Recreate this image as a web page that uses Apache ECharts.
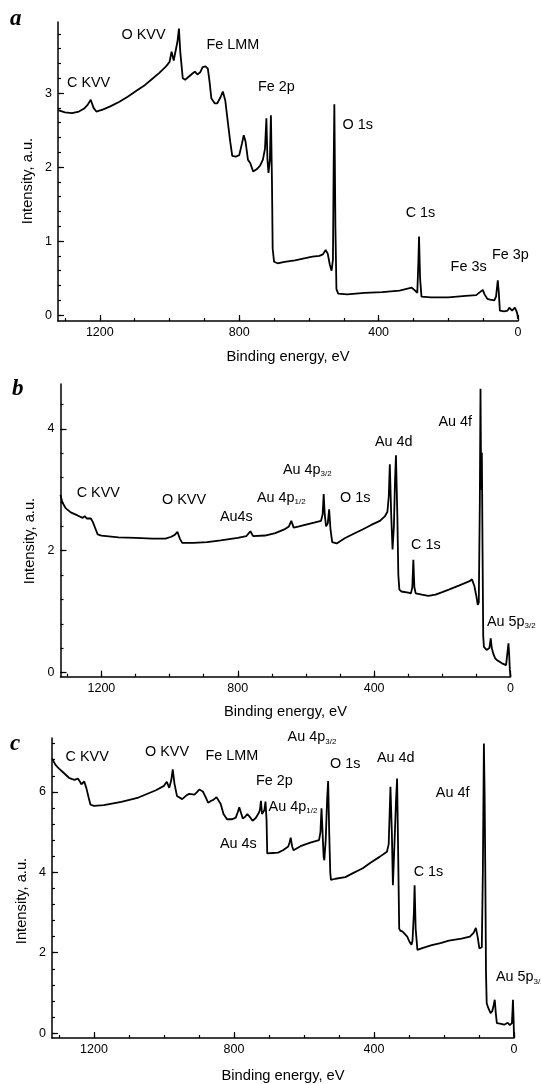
<!DOCTYPE html>
<html>
<head>
<meta charset="utf-8">
<script src="https://cdn.jsdelivr.net/npm/echarts@6/dist/echarts.min.js"></script>
<style>
html,body{margin:0;padding:0;background:#fff;}
#chart{width:541px;height:1084px;}
</style>
</head>
<body>
<div id="chart"></div>
<script>
// ---------- DATA (binding energy eV, intensity a.u.) ----------
const spectrumA = [
[1320,2.77],[1300,2.74],[1280,2.73],[1260,2.75],[1245,2.79],[1235,2.84],[1226,2.91],[1218,2.80],[1210,2.75],
[1190,2.78],[1170,2.82],[1145,2.88],[1120,2.95],[1095,3.03],[1070,3.11],[1050,3.19],[1030,3.27],[1010,3.36],
[1000,3.42],[994,3.56],[988,3.44],[983,3.42],[977,3.70],[973,3.87],[969,3.55],[962,3.20],[955,3.18],[945,3.22],
[935,3.26],[927,3.29],[920,3.25],[912,3.28],[905,3.35],[897,3.36],[890,3.33],[885,3.15],[880,2.93],[870,2.86],
[863,2.86],[853,2.95],[847,3.02],[840,2.90],[833,2.62],[826,2.35],[820,2.15],[810,2.14],[800,2.16],[792,2.32],
[787,2.43],[782,2.35],[775,2.10],[768,2.05],[760,1.94],[750,1.97],[740,2.02],[732,2.10],[726,2.25],[722,2.66],
[719,2.10],[716,1.92],[712,2.10],[709,2.70],[706,1.80],[704,0.90],[700,0.72],[690,0.70],[670,0.72],[640,0.74],
[610,0.77],[590,0.79],[570,0.80],[560,0.82],[552,0.88],[546,0.83],[540,0.68],[535,0.60],[531,0.75],[529,2.00],
[527,2.85],[524,1.20],[521,0.35],[516,0.29],[490,0.28],[440,0.30],[390,0.31],[340,0.33],[305,0.37],[295,0.33],
[289,0.30],[286,0.70],[284,1.06],[281,0.50],[277,0.25],[250,0.24],[200,0.24],[150,0.26],[120,0.27],[101,0.34],
[96,0.28],[88,0.22],[80,0.21],[68,0.20],[63,0.25],[58,0.47],[55,0.30],[52,0.06],[40,0.05],[30,0.06],[25,0.10],
[21,0.11],[17,0.06],[13,0.07],[9,0.10],[5,0.06],[2,0.02],[0,-0.05]
];
const spectrumB = [
[1320,2.92],[1315,2.80],[1305,2.70],[1290,2.63],[1270,2.58],[1255,2.54],[1249,2.57],[1243,2.53],[1238,2.50],
[1231,2.53],[1225,2.47],[1218,2.37],[1211,2.27],[1200,2.25],[1150,2.22],[1100,2.21],[1050,2.20],[1012,2.20],
[995,2.23],[985,2.26],[977,2.31],[970,2.20],[963,2.13],[930,2.13],[890,2.14],[850,2.17],[800,2.21],[775,2.24],
[763,2.32],[755,2.24],[720,2.25],[690,2.29],[660,2.36],[650,2.40],[643,2.49],[636,2.38],[620,2.40],[600,2.43],
[576,2.46],[556,2.49],[551,2.60],[548,2.93],[545,2.60],[541,2.40],[536,2.45],[532,2.68],[528,2.35],[523,2.14],
[510,2.12],[485,2.21],[460,2.28],[434,2.35],[410,2.42],[383,2.49],[368,2.57],[361,2.64],[357,2.90],[354,3.42],
[350,2.60],[346,2.02],[342,2.40],[339,3.10],[336,3.57],[332,2.60],[329,1.60],[326,1.36],[320,1.33],[300,1.31],
[292,1.30],[288,1.40],[285,1.85],[282,1.40],[278,1.30],[260,1.28],[241,1.26],[220,1.28],[200,1.32],[181,1.36],
[150,1.43],[120,1.50],[113,1.53],[106,1.42],[100,1.25],[96,1.11],[93,1.15],[90,2.80],[88,4.66],[86,3.00],
[84,3.61],[82,2.00],[80,0.60],[78,0.42],[70,0.37],[62,0.40],[58,0.56],[55,0.40],[50,0.30],[45,0.23],[39,0.20],
[25,0.15],[13,0.12],[8,0.13],[6,0.48],[4,0.30],[2,0.05],[0,-0.07]
];
const spectrumC = [
[1320,6.83],[1310,6.67],[1300,6.58],[1290,6.50],[1270,6.34],[1256,6.30],[1246,6.33],[1240,6.25],[1236,6.19],
[1228,6.26],[1222,6.10],[1215,5.85],[1210,5.68],[1200,5.65],[1172,5.67],[1122,5.75],[1073,5.86],[1023,6.04],
[1000,6.15],[992,6.25],[985,6.10],[979,6.30],[975,6.56],[970,6.20],[963,5.90],[948,5.82],[935,5.92],[928,5.95],
[913,5.93],[905,6.00],[899,6.06],[889,6.01],[880,5.85],[874,5.73],[865,5.78],[859,5.80],[850,5.87],[845,5.88],
[838,5.70],[830,5.45],[820,5.32],[805,5.32],[795,5.36],[789,5.50],[785,5.62],[779,5.45],[775,5.34],[768,5.38],
[762,5.45],[755,5.38],[747,5.28],[738,5.35],[730,5.46],[726,5.55],[723,5.78],[720,5.45],[717,5.42],[713,5.55],
[710,5.76],[707,5.30],[705,4.47],[690,4.48],[674,4.49],[660,4.55],[645,4.64],[641,4.75],[638,4.86],[634,4.65],
[630,4.55],[610,4.65],[582,4.74],[557,4.80],[553,5.00],[550,5.59],[547,5.00],[544,4.40],[542,4.30],[538,4.80],
[534,5.80],[531,6.27],[528,5.00],[525,4.00],[523,3.81],[510,3.84],[482,3.88],[460,3.98],[432,4.10],[410,4.24],
[383,4.39],[363,4.51],[358,4.70],[353,6.13],[349,5.00],[346,3.68],[342,4.60],[337,5.80],[334,6.33],[331,4.50],
[328,2.60],[325,2.55],[319,2.53],[305,2.40],[299,2.28],[293,2.20],[290,2.30],[286,3.00],[284,3.68],[281,2.60],
[276,2.07],[260,2.12],[235,2.19],[210,2.24],[186,2.30],[150,2.35],[126,2.40],[115,2.50],[109,2.62],[104,2.40],
[99,2.11],[95,2.10],[92,2.14],[89,4.00],[86,7.20],[84,6.00],[82,4.00],[80,1.50],[78,0.75],[75,0.66],[70,0.62],
[67,0.50],[62,0.55],[58,0.70],[55,0.83],[52,0.50],[49,0.25],[40,0.24],[28,0.21],[18,0.26],[12,0.20],[10,0.17],
[6,0.25],[4,0.60],[3,0.83],[1,0.30],[0,-0.12]
];

// ---------- TICK VALUES ----------
const xMajorTicks = [0, 400, 800, 1200];
const xMinorTicks = [0,100,200,300,400,500,600,700,800,900,1000,1100,1200,1300];
const yMajorA = [0, 1, 2, 3];
const yMinorA = [0,0.2,0.4,0.6,0.8,1,1.2,1.4,1.6,1.8,2,2.2,2.4,2.6,2.8,3,3.2,3.4,3.6,3.8];
const yMajorB = [0, 2, 4];
const yMinorB = [0,0.4,0.8,1.2,1.6,2,2.4,2.8,3.2,3.6,4,4.4];
const yMajorC = [0, 2, 4, 6];
const yMinorC = [0,0.4,0.8,1.2,1.6,2,2.4,2.8,3.2,3.6,4,4.4,4.8,5.2,5.6,6,6.4,6.8,7.2];

const xAxisTitle = 'Binding energy, eV';
const yAxisTitle = 'Intensity, a.u.';

// ---------- LAYOUT ----------
const FONT = '"Liberation Sans", Arial, sans-serif';
const panels = [
  {letter:'a', data:spectrumA, grid:{left:58, top:22, width:460, height:299}, yMin:-0.08, yMax:3.96,
   yMajor:yMajorA, yMinor:yMinorA, yName:[28,181], letterPos:[10,19], nameGap:28},
  {letter:'b', data:spectrumB, grid:{left:60.5, top:384, width:450, height:292.7}, yMin:-0.07, yMax:4.74,
   yMajor:yMajorB, yMinor:yMinorB, yName:[30,541], letterPos:[12,389], nameGap:28},
  {letter:'c', data:spectrumC, grid:{left:52, top:738, width:462, height:300.3}, yMin:-0.12, yMax:7.34,
   yMajor:yMajorC, yMinor:yMinorC, yName:[21.5,901], letterPos:[10,744], nameGap:30}
];

// annotation layout: [text, left x, center y]
const notes = [
  ['C KVV',67,83],['O KVV',121.5,35],['Fe LMM',206.5,45],['Fe 2p',258,87],['O 1s',342.5,125],
  ['C 1s',405.7,212.7],['Fe 3s',450.6,266.7],['Fe 3p',492,255],
  ['C KVV',76.7,492.7],['O KVV',162,500],['Au4s',220,516.7],['Au 4p|1/2',257,498],['Au 4p|3/2',283,470],
  ['O 1s',340,498],['Au 4d',375,441.7],['Au 4f',438.5,421.7],['C 1s',411,545],['Au 5p|3/2',487,621.7],
  ['C KVV',65.6,757.3],['O KVV',145,751.7],['Fe LMM',205.5,756],['Au 4p|3/2',287.6,737.3],['O 1s',330,764.3],
  ['Au 4d',377,757.7],['Fe 2p',256,781],['Au 4f',435.8,792.7],['Au 4p|1/2',268.6,806.7],['Au 4s',220,844],
  ['C 1s',413.7,871.7],['Au 5p|3/2',496,977.3]
];

const plain = v => String(v);
const grids = [], xAxes = [], yAxes = [], series = [], graphics = [];
panels.forEach((p, i) => {
  grids.push(Object.assign({containLabel:false}, p.grid));
  const common = {gridIndex:i, type:'value', min:0, max:1320, inverse:true, position:'bottom', splitLine:{show:false}};
  xAxes.push(Object.assign({}, common, {
    axisLine:{show:true, onZero:false, lineStyle:{color:'#000', width:1.5}},
    axisTick:{show:true, inside:true, length:6, customValues:xMajorTicks, lineStyle:{color:'#000', width:1.2}},
    axisLabel:{show:true, customValues:xMajorTicks, formatter:plain, color:'#000', fontSize:12.5, fontFamily:FONT, margin:5},
    name:xAxisTitle, nameLocation:'middle', nameGap:p.nameGap,
    nameTextStyle:{color:'#000', fontSize:14.7, fontFamily:FONT}
  }));
  xAxes.push(Object.assign({}, common, {
    axisLine:{show:false, onZero:false},
    axisTick:{show:true, inside:true, length:3, customValues:xMinorTicks, lineStyle:{color:'#000', width:1.2}},
    axisLabel:{show:false}
  }));
  const yc = {gridIndex:i, type:'value', min:p.yMin, max:p.yMax, position:'left', splitLine:{show:false}};
  yAxes.push(Object.assign({}, yc, {
    axisLine:{show:true, onZero:false, lineStyle:{color:'#000', width:1.5}},
    axisTick:{show:true, inside:true, length:6, customValues:p.yMajor, lineStyle:{color:'#000', width:1.2}},
    axisLabel:{show:true, customValues:p.yMajor, formatter:plain, color:'#000', fontSize:12.5, fontFamily:FONT, margin:6}
  }));
  yAxes.push(Object.assign({}, yc, {
    axisLine:{show:false, onZero:false},
    axisTick:{show:true, inside:true, length:3, customValues:p.yMinor, lineStyle:{color:'#000', width:1.2}},
    axisLabel:{show:false}
  }));
  series.push({
    type:'line', xAxisIndex:2*i, yAxisIndex:2*i, data:p.data, showSymbol:false, symbol:'none',
    lineStyle:{color:'#000', width:1.8}, itemStyle:{color:'#000'}, animation:false, silent:true
  });
  graphics.push({type:'text', x:p.yName[0], y:p.yName[1], rotation:Math.PI/2,
    style:{text:yAxisTitle, fill:'#000', fontSize:14.7, fontFamily:FONT, align:'center', verticalAlign:'middle'}});
  graphics.push({type:'text', x:p.letterPos[0], y:p.letterPos[1],
    style:{text:p.letter, fill:'#000', fontSize:23, fontWeight:'bold', fontStyle:'italic',
      fontFamily:'"Liberation Serif", "Times New Roman", serif', align:'left', verticalAlign:'middle'}});
});

notes.forEach(n => {
  const parts = n[0].split('|');
  const txt = parts.length > 1 ? '{m|' + parts[0] + '}{s|' + parts[1] + '}' : '{m|' + parts[0] + '}';
  graphics.push({type:'text', x:n[1], y:n[2],
    style:{text:txt, fill:'#000', align:'left', verticalAlign:'middle',
      rich:{
        m:{fontSize:14.4, fontFamily:FONT, lineHeight:16, fill:'#000'},
        s:{fontSize:8, fontFamily:FONT, lineHeight:2, verticalAlign:'bottom', fill:'#000'}
      }}});
});

const chart = echarts.init(document.getElementById('chart'), null, {renderer:'canvas'});
chart.setOption({
  backgroundColor:'#fff',
  animation:false,
  grid:grids, xAxis:xAxes, yAxis:yAxes, series:series, graphic:graphics
});
</script>
</body>
</html>
